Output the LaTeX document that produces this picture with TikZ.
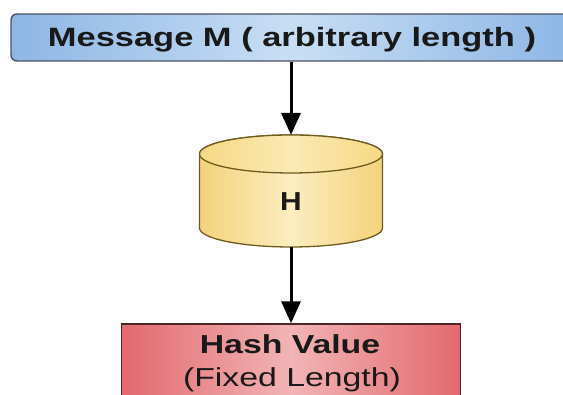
\documentclass[tikz,border=0pt]{standalone}
\usepackage{fontspec}
\setmainfont{Liberation Sans}
\usetikzlibrary{arrows.meta}

\definecolor{boxblueedge}{HTML}{8DB6E5}
\definecolor{boxbluemid}{HTML}{C8DEF4}
\definecolor{boxblueline}{HTML}{4C5262}
\definecolor{cylyedge}{HTML}{F3D27A}
\definecolor{cylymid}{HTML}{FCEDC0}
\definecolor{cyltop}{HTML}{F6D985}
\definecolor{cylline}{HTML}{6E5C1E}
\definecolor{boxrededge}{HTML}{E2696E}
\definecolor{boxredmid}{HTML}{F2B4B5}
\definecolor{boxredline}{HTML}{4A2626}

\tikzset{
  msgbox/.style={draw=boxblueline, line width=1.4pt, rounded corners=6pt,
    left color=boxblueedge, right color=boxblueedge, middle color=boxbluemid,
    minimum width=560pt, minimum height=47pt, inner sep=0pt},
  hashbox/.style={draw=boxredline, line width=1.4pt,
    left color=boxrededge, right color=boxrededge, middle color=boxredmid,
    minimum width=339pt, minimum height=90pt, inner sep=0pt},
  label/.style={inner sep=0pt, anchor=base, text=black!90},
  flow/.style={line width=3pt, -{Triangle[length=22pt, width=19pt]}},
}

\begin{document}
\begin{tikzpicture}[x=1pt, y=1pt]
  \useasboundingbox (0,0) rectangle (563,395);
  \clip (0,0) rectangle (563,395);

  % input message bar (runs past the right edge)
  \node[msgbox] (msg) at (291,357.5) {};
  \node[label, xscale=1.3] (msgtext) at (292,348)
    {\fontsize{26.5}{30}\selectfont\bfseries Message M ( arbitrary length )};

  % hash function drawn as a cylinder
  \def\cx{291}\def\rx{91.5}\def\ry{19}
  \path[left color=cylyedge, right color=cylyedge, middle color=cylymid,
        draw=cylline, line width=1.3pt]
    (\cx-\rx,241) -- (\cx-\rx,167)
    arc[start angle=180, end angle=360, x radius=\rx, y radius=\ry]
    -- (\cx+\rx,241)
    arc[start angle=0, end angle=180, x radius=\rx, y radius=\ry] -- cycle;
  \path[left color=cyltop, right color=cyltop, middle color=cylymid!80!cyltop,
        draw=cylline, line width=1.3pt]
    (\cx,241) ellipse[x radius=\rx, y radius=\ry];
  \coordinate (cyltopedge) at (\cx,260);
  \coordinate (cylbotedge) at (\cx,148);
  \node[label, xscale=1.15] (hfn) at (\cx,184)
    {\fontsize{26}{30}\selectfont\bfseries H};

  % fixed-length output box (runs past the bottom edge)
  \node[hashbox] (hash) at (291,26) {};
  \node[label, xscale=1.3] (hashtitle) at (290,41)
    {\fontsize{26}{30}\selectfont\bfseries Hash Value};
  \node[label, xscale=1.3] (hashsub) at (292,8)
    {\fontsize{26}{30}\selectfont (Fixed Length)};

  % connectors
  \draw[flow] (msg.south) -- (cyltopedge);
  \draw[flow] (cylbotedge) -- (hash.north);
\end{tikzpicture}
\end{document}
